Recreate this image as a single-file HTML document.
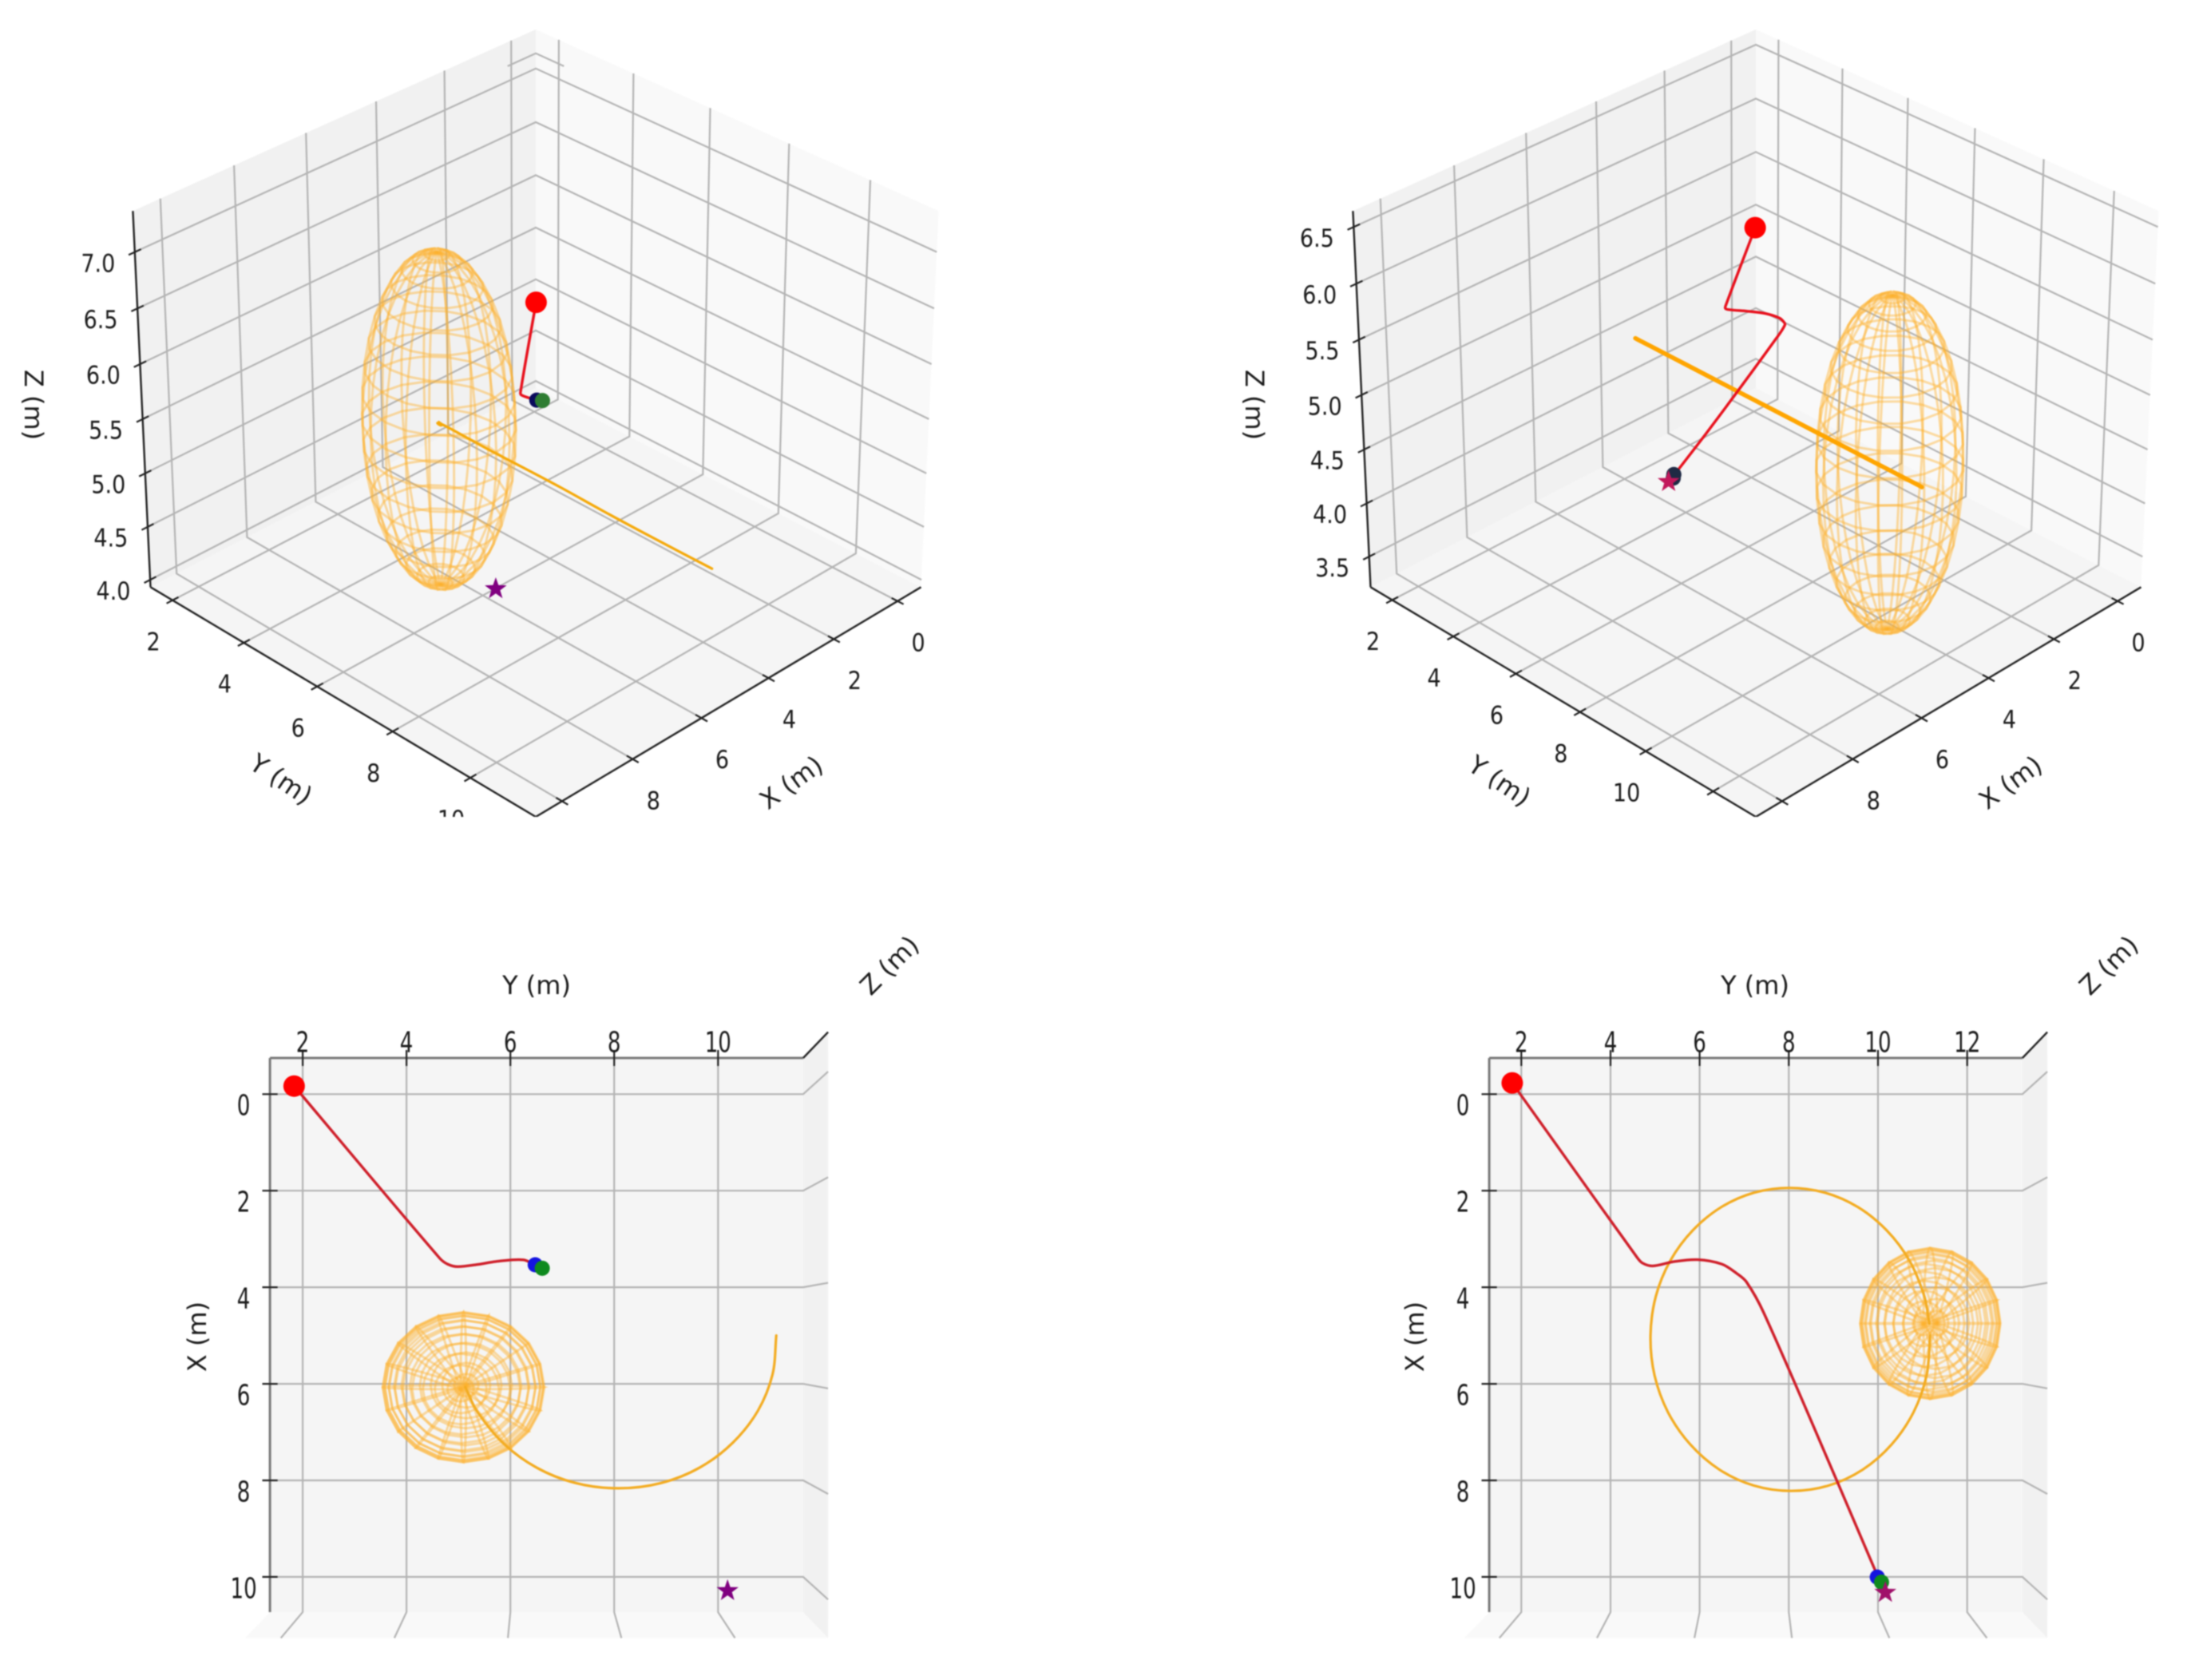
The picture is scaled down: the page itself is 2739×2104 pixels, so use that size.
<!DOCTYPE html>
<html>
<head>
<meta charset="utf-8">
<title>3D trajectory views</title>
<style>
html,body{margin:0;padding:0;background:#fff;width:2739px;height:2104px;overflow:hidden}
svg{display:block;filter:blur(0.8px)}
text{font-family:"DejaVu Sans","Liberation Sans",sans-serif;fill:#1c1c1c}
.title{font-size:32px;text-anchor:middle;dominant-baseline:central}
.tick{font-size:30px;text-anchor:middle;dominant-baseline:central}
</style>
</head>
<body>
<svg id="figure" width="2739" height="2104" viewBox="0 0 2739 2104" xmlns="http://www.w3.org/2000/svg">
  <defs>
    <clipPath id="top-clip"><rect x="0" y="0" width="2739" height="1023"/></clipPath>
  </defs>
  <g id="panel-a" clip-path="url(#top-clip)"></g>
  <g id="panel-b" clip-path="url(#top-clip)"></g>
  <g id="panel-c"></g>
  <g id="panel-d"></g>

  <text class="title" transform="translate(42,507) rotate(90)">Z (m)</text>
  <text class="title" transform="translate(352,976) rotate(34)">Y (m)</text>
  <text class="title" transform="translate(991,980) rotate(-36)">X (m)</text>

  <text class="title" transform="translate(1571,507) rotate(90)">Z (m)</text>
  <text class="title" transform="translate(1878,978) rotate(34)">Y (m)</text>
  <text class="title" transform="translate(2518,980) rotate(-36)">X (m)</text>

  <text class="title" transform="translate(672,1234)">Y (m)</text>
  <text class="title" transform="translate(247,1674) rotate(-90)">X (m)</text>
  <text class="title" transform="translate(1114,1209) rotate(-45)">Z (m)</text>

  <text class="title" transform="translate(2198,1234)">Y (m)</text>
  <text class="title" transform="translate(1772,1674) rotate(-90)">X (m)</text>
  <text class="title" transform="translate(2641,1209) rotate(-45)">Z (m)</text>
</svg>
<script>
// ---- axis limits and tick values (data units, metres) ----
const earlyXLim = [-0.75, 10.73];
const earlyYLim = [1.37, 11.64];
const earlyZLim = [3.93, 7.36];
const lateXLim = [-0.75, 10.73];
const lateYLim = [1.28, 13.24];
const lateZLim = [3.21, 6.64];
const xTickValues = [0, 2, 4, 6, 8, 10];
const earlyYTickValues = [2, 4, 6, 8, 10];
const lateYTickValues = [2, 4, 6, 8, 10, 12];
const earlyZTickValues = [4.0, 4.5, 5.0, 5.5, 6.0, 6.5, 7.0];
const lateZTickValues = [3.5, 4.0, 4.5, 5.0, 5.5, 6.0, 6.5];

// ---- drone trajectory, early perspective frame ----
const earlyPathX = [0, 3.45, 3.57, 3.58];
const earlyPathY = [2.05, 4.72, 4.85, 5.27];
const earlyPathZ = [5.01, 5.18, 5.19, 5.22];
// ---- drone trajectory, early top-view frame ----
const earlyTopPathX = [-0.03, 3.45, 3.57, 3.62, 3.58, 3.52, 3.49, 3.60];
const earlyTopPathY = [1.96, 4.70, 4.85, 5.03, 5.40, 5.75, 6.26, 6.48];
const earlyTopPathZ = [5, 5.23, 5.24, 5.26, 5.30, 5.34, 5.42, 5.46];
// ---- drone trajectory, late frame ----
const latePathX = [0, 3.45, 3.57, 3.63, 3.55, 3.51, 3.60, 3.78, 3.95, 4.56, 7.87, 9.73];
const latePathY = [2.04, 4.72, 4.84, 5.06, 5.50, 6.02, 6.54, 6.85, 7.06, 7.43, 8.99, 9.85];
const latePathZ = [5.0, 5.187, 5.197, 5.228, 5.268, 5.318, 5.369, 5.409, 5.44, 5.47, 5.47, 5.48];

// ---- moving obstacle trail, early perspective frame ----
const earlyTrailX = [5, 5.78, 6.5, 7.12, 7.6, 7.9, 8, 7.9, 7.6, 7.12, 6.5, 6.1];
const earlyTrailY = [11, 10.9, 10.6, 10.12, 9.5, 8.78, 8, 7.22, 6.5, 5.88, 5.4, 4.95];
const earlyTrailZ = [4.99, 5.25, 5.49, 5.70, 5.87, 5.97, 6, 5.97, 5.87, 5.70, 5.49, 5.37];
// ---- moving obstacle trail, early top-view frame ----
const earlyTopTrailX = [5, 5.78, 6.5, 7.12, 7.6, 7.9, 8, 7.9, 7.6, 7.12, 6.5, 6.03];
const earlyTopTrailY = [11, 10.9, 10.6, 10.12, 9.5, 8.78, 8, 7.22, 6.5, 5.88, 5.4, 5.18];
const earlyTopTrailZ = [4.99, 5.25, 5.49, 5.70, 5.87, 5.97, 6, 5.97, 5.87, 5.70, 5.49, 5.34];
// ---- moving obstacle trail, late frame ----
const lateTrailX = [5, 5.78, 6.5, 7.12, 7.6, 7.9, 8, 7.9, 7.6, 7.12, 6.5, 5.78, 5, 4.22, 3.5, 2.88, 2.4, 2.1, 2, 2.1, 2.4, 2.88, 3.5, 4.22, 4.76];
const lateTrailY = [11, 10.9, 10.6, 10.12, 9.5, 8.78, 8, 7.22, 6.5, 5.88, 5.4, 5.1, 5, 5.1, 5.4, 5.88, 6.5, 7.22, 8, 8.78, 9.5, 10.12, 10.6, 10.9, 10.99];
const lateTrailZ = [4.95, 5.2035, 5.4374, 5.6393, 5.7945, 5.8925, 5.9248, 5.8925, 5.7945, 5.6393, 5.4374, 5.2035, 4.95, 4.697, 4.463, 4.261, 4.106, 4.008, 3.976, 4.008, 4.106, 4.261, 4.463, 4.697, 4.873];

// ---- obstacle ellipsoid [x, y, z] centres and [rx, ry, rz] radii ----
const earlyObstacleCentre = [6.1, 4.95, 5.373];
const earlyTopObstacleCentre = [6.03, 5.15, 5.38];
const lateObstacleCentre = [4.76, 11.0, 4.915];
const earlyObstacleRadii = [1.52, 1.52, 1.53];
const earlyTopObstacleRadii = [1.5, 1.5, 1.53];
const lateObstacleRadii = [1.53, 1.53, 1.5];
const lateTopObstacleRadii = [1.5, 1.5, 1.5];

// ---- markers [x, y, z] ----
const earlyStart = [0, 2.05, 5.01];
const earlyCurrent = [3.58, 5.27, 5.22];
const earlyNext = [3.6, 5.44, 5.25];
const earlyGoal = [10, 10, 5.494];
const earlyTopStart = [-0.03, 1.96, 5];
const earlyTopCurrent = [3.59, 6.48, 5.46];
const earlyTopNext = [3.66, 6.61, 5.5];
const earlyTopGoal = [10.08, 10.04, 5.5];
const lateStart = [0, 2.04, 5.0];
const lateCurrent = [9.72, 9.83, 5.48];
const lateNext = [9.82, 9.92, 5.48];
const lateGoal = [10.02, 10, 5.495];

const SVGNS = 'http://www.w3.org/2000/svg';

function makeAxes(xLim, yLim, zLim, cx, cy, elevDeg, azimDeg) {
  const el = elevDeg * Math.PI / 180, az = azimDeg * Math.PI / 180;
  const ce = Math.cos(el), se = Math.sin(el), ca = Math.cos(az), sa = Math.sin(az);
  return function (x, y, z) {
    const px = ((x - xLim[0]) / (xLim[1] - xLim[0]) - 0.5) * 1.1905;
    const py = ((y - yLim[0]) / (yLim[1] - yLim[0]) - 0.5) * 1.1905;
    const pz = ((z - zLim[0]) / (zLim[1] - zLim[0]) - 0.5) * 0.8929;
    const X = -sa * px + ca * py;
    const Y = -se * ca * px - se * sa * py + ce * pz;
    const D = ce * ca * px + ce * sa * py + se * pz;
    const f = 1 / (1 - D / 10);
    return [cx + 586 * X * f, cy - 609 * Y * f];
  };
}

function pathFrom(points) {
  return points.map(function (p, i) { return (i ? 'L' : 'M') + p[0].toFixed(1) + ' ' + p[1].toFixed(1); }).join(' ');
}

function unitTangent(pts, i) {
  const a = pts[Math.max(0, i - 1)], b = pts[Math.min(pts.length - 1, i + 1)];
  const dx = b[0] - a[0], dy = b[1] - a[1], n = Math.hypot(dx, dy) || 1;
  return [dx / n, dy / n];
}

function smoothFrom(pts) {
  let d = 'M' + pts[0][0].toFixed(1) + ' ' + pts[0][1].toFixed(1);
  for (let i = 0; i < pts.length - 1; i++) {
    const p1 = pts[i], p2 = pts[i + 1];
    const len = Math.hypot(p2[0] - p1[0], p2[1] - p1[1]) / 3;
    const t1 = unitTangent(pts, i), t2 = unitTangent(pts, i + 1);
    d += ' C' + (p1[0] + t1[0] * len).toFixed(1) + ' ' + (p1[1] + t1[1] * len).toFixed(1) +
      ' ' + (p2[0] - t2[0] * len).toFixed(1) + ' ' + (p2[1] - t2[1] * len).toFixed(1) +
      ' ' + p2[0].toFixed(1) + ' ' + p2[1].toFixed(1);
  }
  return d;
}

function shape(parent, tag, attrs) {
  const el = document.createElementNS(SVGNS, tag);
  for (const k in attrs) el.setAttribute(k, attrs[k]);
  parent.appendChild(el);
  return el;
}

function drawPanel(o) {
  const g = document.getElementById(o.id);
  const P = o.P, xL = o.xLim, yL = o.yLim, zL = o.zLim;
  const xPane = o.topView ? xL[1] : xL[0], xOther = o.topView ? xL[0] : xL[1];
  const yPane = o.topView ? yL[1] : yL[0], yOther = o.topView ? yL[0] : yL[1];
  let el;

  // panes
  el = shape(g, 'path', { d: pathFrom([P(xL[0], yL[0], zL[0]), P(xL[1], yL[0], zL[0]), P(xL[1], yL[1], zL[0]), P(xL[0], yL[1], zL[0])]) + 'Z', fill: '#f5f5f5' });
  
  
  el = shape(g, 'path', { d: pathFrom([P(xPane, yL[0], zL[0]), P(xPane, yL[1], zL[0]), P(xPane, yL[1], zL[1]), P(xPane, yL[0], zL[1])]) + 'Z', fill: '#f9f9f9' });
  
  
  el = shape(g, 'path', { d: pathFrom([P(xL[0], yPane, zL[0]), P(xL[1], yPane, zL[0]), P(xL[1], yPane, zL[1]), P(xL[0], yPane, zL[1])]) + 'Z', fill: '#f1f1f1' });
  
  

  const gridStyle = { fill: 'none', stroke: '#b4b4b4', 'stroke-width': 2.2 };

  // grid lines
  o.xTicks.forEach(function (t) {
    el = shape(g, 'path', Object.assign({ d: pathFrom([P(t, yOther, zL[0]), P(t, yPane, zL[0]), P(t, yPane, zL[1])]) }, gridStyle));
    
    
  });
  o.yTicks.forEach(function (t) {
    el = shape(g, 'path', Object.assign({ d: pathFrom([P(xOther, t, zL[0]), P(xPane, t, zL[0]), P(xPane, t, zL[1])]) }, gridStyle));
    
    
  });
  if (!o.topView) {
    o.zTicks.forEach(function (t) {
      el = shape(g, 'path', Object.assign({ d: pathFrom([P(xOther, yPane, t), P(xPane, yPane, t), P(xPane, yOther, t)]) }, gridStyle));
      
      
    });
  }
  if (o.strayZ) {
    const dx = (xL[1] - xL[0]) * 0.075, dy = (yL[1] - yL[0]) * 0.075;
    el = shape(g, 'path', Object.assign({ d: pathFrom([P(xPane + dx, yPane, o.strayZ), P(xPane, yPane, o.strayZ), P(xPane, yPane + dy, o.strayZ)]) }, gridStyle));
    
    
  }

  // axis edges
  const edgeColor = o.topView ? '#7a7a7a' : '#222';
  const edgeWidth = o.topView ? 3 : 2.4;
  const xRow = o.topView ? yL[0] : yL[1];
  const yRow = o.topView ? xL[0] : xL[1];
  const zX = o.topView ? xL[0] : xL[1];
  const zY = o.topView ? yL[1] : yL[0];
  el = shape(g, 'path', { d: pathFrom([P(xL[0], xRow, zL[0]), P(xL[1], xRow, zL[0])]), stroke: edgeColor, 'stroke-width': edgeWidth, fill: 'none' });
  
  
  el = shape(g, 'path', { d: pathFrom([P(yRow, yL[0], zL[0]), P(yRow, yL[1], zL[0])]), stroke: edgeColor, 'stroke-width': edgeWidth, fill: 'none' });
  
  
  el = shape(g, 'path', { d: pathFrom([P(zX, zY, zL[0]), P(zX, zY, zL[1])]), stroke: '#222', 'stroke-width': 2.4, fill: 'none' });
  
  

  // ticks and labels
  const xSpan = (xL[1] - xL[0]) * 0.0144, ySpan = (yL[1] - yL[0]) * 0.0144;
  const scale = o.topView ? 'scale(0.87,1.19)' : 'scale(0.9,1.05)';
  function label(parent, text, pos, off) {
    const t = shape(parent, 'text', { class: 'tick', transform: 'translate(' + (pos[0] + off[0]).toFixed(1) + ',' + (pos[1] + off[1]).toFixed(1) + ') ' + scale });
    t.textContent = text;
    return t;
  }
  o.xTicks.forEach(function (t) {
    el = shape(g, 'path', { d: pathFrom([P(t, xRow - ySpan, zL[0]), P(t, xRow + ySpan, zL[0])]), stroke: '#222', 'stroke-width': 2.2 });
    
    
    el = label(g, String(t), P(t, xRow, zL[0]), o.topView ? [-33, 15] : [26, 52]);
    
    
  });
  o.yTicks.forEach(function (t) {
    el = shape(g, 'path', { d: pathFrom([P(yRow - xSpan, t, zL[0]), P(yRow + xSpan, t, zL[0])]), stroke: '#222', 'stroke-width': 2.2 });
    
    
    el = label(g, String(t), P(yRow, t, zL[0]), o.topView ? [0, -19] : [-24, 52]);
    
    
  });
  if (!o.topView) {
    o.zTicks.forEach(function (t) {
      el = shape(g, 'path', { d: pathFrom([P(zX - xSpan, zY, t), P(zX + xSpan, zY, t)]), stroke: '#222', 'stroke-width': 2.2 });
      
      
      el = label(g, t.toFixed(1), P(zX, zY, t), [-46, 14]);
      
      
    });
  }

  // obstacle wireframe
  const wire = shape(g, 'g', { fill: 'none', stroke: '#fdb22f', 'stroke-opacity': 0.44, 'stroke-width': 3 });
  
  
  const C = o.centre, R = o.radii, NU = 20, NV = 20;
  function surf(i, j) {
    const u = 2 * Math.PI * i / NU, v = Math.PI * j / NV;
    return P(C[0] + R[0] * Math.cos(u) * Math.sin(v), C[1] + R[1] * Math.sin(u) * Math.sin(v), C[2] + R[2] * Math.cos(v));
  }
  for (let i = 0; i < NU; i++) {
    const pts = [];
    for (let j = 0; j <= NV; j++) pts.push(surf(i, j));
    el = shape(wire, 'path', { d: pathFrom(pts) });
    
    
  }
  for (let j = 1; j < NV; j++) {
    const pts = [];
    for (let i = 0; i <= NU; i++) pts.push(surf(i, j));
    el = shape(wire, 'path', { d: pathFrom(pts) });
    
    
  }

  // obstacle trail
  const trailPts = o.trailX.map(function (v, i) { return P(v, o.trailY[i], o.trailZ[i]); });
  el = shape(g, 'path', { d: smoothFrom(trailPts), fill: 'none', stroke: o.trailColor, 'stroke-width': o.trailWidth, 'stroke-linecap': 'round' });
  
  

  // flown path
  const flightPts = o.pathX.map(function (v, i) { return P(v, o.pathY[i], o.pathZ[i]); });
  el = shape(g, 'path', { d: smoothFrom(flightPts), fill: 'none', stroke: o.pathColor, 'stroke-width': 3.4, 'stroke-linejoin': 'round' });
  
  

  // markers
  const s = P(o.start[0], o.start[1], o.start[2]);
  el = shape(g, 'circle', { cx: s[0], cy: s[1], r: 13.5, fill: '#ff0000' });
  
  
  const c = P(o.current[0], o.current[1], o.current[2]);
  el = shape(g, 'circle', { cx: c[0], cy: c[1], r: 9.5, fill: o.currentColor });
  
  
  const n = P(o.next[0], o.next[1], o.next[2]);
  el = shape(g, 'circle', { cx: n[0], cy: n[1], r: 9.5, fill: o.nextColor });
  
  
  const q = P(o.goal[0], o.goal[1], o.goal[2]);
  const star = [];
  for (let i = 0; i < 10; i++) {
    const rad = i % 2 ? 5.8 : 14.5, a = -Math.PI / 2 + i * Math.PI / 5;
    star.push([q[0] + rad * Math.cos(a), q[1] + rad * Math.sin(a)]);
  }
  el = shape(g, 'path', { d: pathFrom(star) + 'Z', fill: o.goalColor });
  
  
}

drawPanel({
  id: 'panel-a', topView: false, P: makeAxes(earlyXLim, earlyYLim, earlyZLim, 671, 505, 30, 45),
  xLim: earlyXLim, yLim: earlyYLim, zLim: earlyZLim, strayZ: 7.14,
  xTicks: xTickValues, yTicks: earlyYTickValues, zTicks: earlyZTickValues,
  pathX: earlyPathX, pathY: earlyPathY, pathZ: earlyPathZ,
  trailX: earlyTrailX, trailY: earlyTrailY, trailZ: earlyTrailZ,
  centre: earlyObstacleCentre, radii: earlyObstacleRadii, start: earlyStart, current: earlyCurrent, next: earlyNext, goal: earlyGoal,
  trailColor: '#f5a90a', trailWidth: 3.2, pathColor: '#e8101c',
  currentColor: '#0a0a5c', nextColor: '#2e7d32', goalColor: '#800080'
});
drawPanel({
  id: 'panel-b', topView: false, P: makeAxes(lateXLim, lateYLim, lateZLim, 2199, 505, 30, 45),
  xLim: lateXLim, yLim: lateYLim, zLim: lateZLim,
  xTicks: xTickValues, yTicks: lateYTickValues, zTicks: lateZTickValues,
  pathX: latePathX, pathY: latePathY, pathZ: latePathZ,
  trailX: lateTrailX, trailY: lateTrailY, trailZ: lateTrailZ,
  centre: lateObstacleCentre, radii: lateObstacleRadii, start: lateStart, current: lateCurrent, next: lateNext, goal: lateGoal,
  trailColor: '#ffa500', trailWidth: 5.5, pathColor: '#e8101c',
  currentColor: '#1f2a44', nextColor: '#1f2a44', goalColor: '#c2185b'
});
drawPanel({
  id: 'panel-c', topView: true, P: makeAxes(earlyXLim, earlyYLim, earlyZLim, 672, 1672, 90, 0),
  xLim: earlyXLim, yLim: earlyYLim, zLim: earlyZLim,
  xTicks: xTickValues, yTicks: earlyYTickValues, zTicks: [],
  pathX: earlyTopPathX, pathY: earlyTopPathY, pathZ: earlyTopPathZ,
  trailX: earlyTopTrailX, trailY: earlyTopTrailY, trailZ: earlyTopTrailZ,
  centre: earlyTopObstacleCentre, radii: earlyTopObstacleRadii, start: earlyTopStart, current: earlyTopCurrent, next: earlyTopNext, goal: earlyTopGoal,
  trailColor: '#f3ac22', trailWidth: 3.2, pathColor: '#cf1f2a',
  currentColor: '#1414e0', nextColor: '#0e8a1e', goalColor: '#800080'
});
drawPanel({
  id: 'panel-d', topView: true, P: makeAxes(lateXLim, lateYLim, lateZLim, 2199, 1672, 90, 0),
  xLim: lateXLim, yLim: lateYLim, zLim: lateZLim,
  xTicks: xTickValues, yTicks: lateYTickValues, zTicks: [],
  pathX: latePathX, pathY: latePathY, pathZ: latePathZ,
  trailX: lateTrailX, trailY: lateTrailY, trailZ: lateTrailZ,
  centre: lateObstacleCentre, radii: lateTopObstacleRadii, start: lateStart, current: lateCurrent, next: lateNext, goal: lateGoal,
  trailColor: '#f3ac22', trailWidth: 3.2, pathColor: '#cf1f2a',
  currentColor: '#1414e0', nextColor: '#0e8a1e', goalColor: '#a0106a'
});
</script>
</body>
</html>
